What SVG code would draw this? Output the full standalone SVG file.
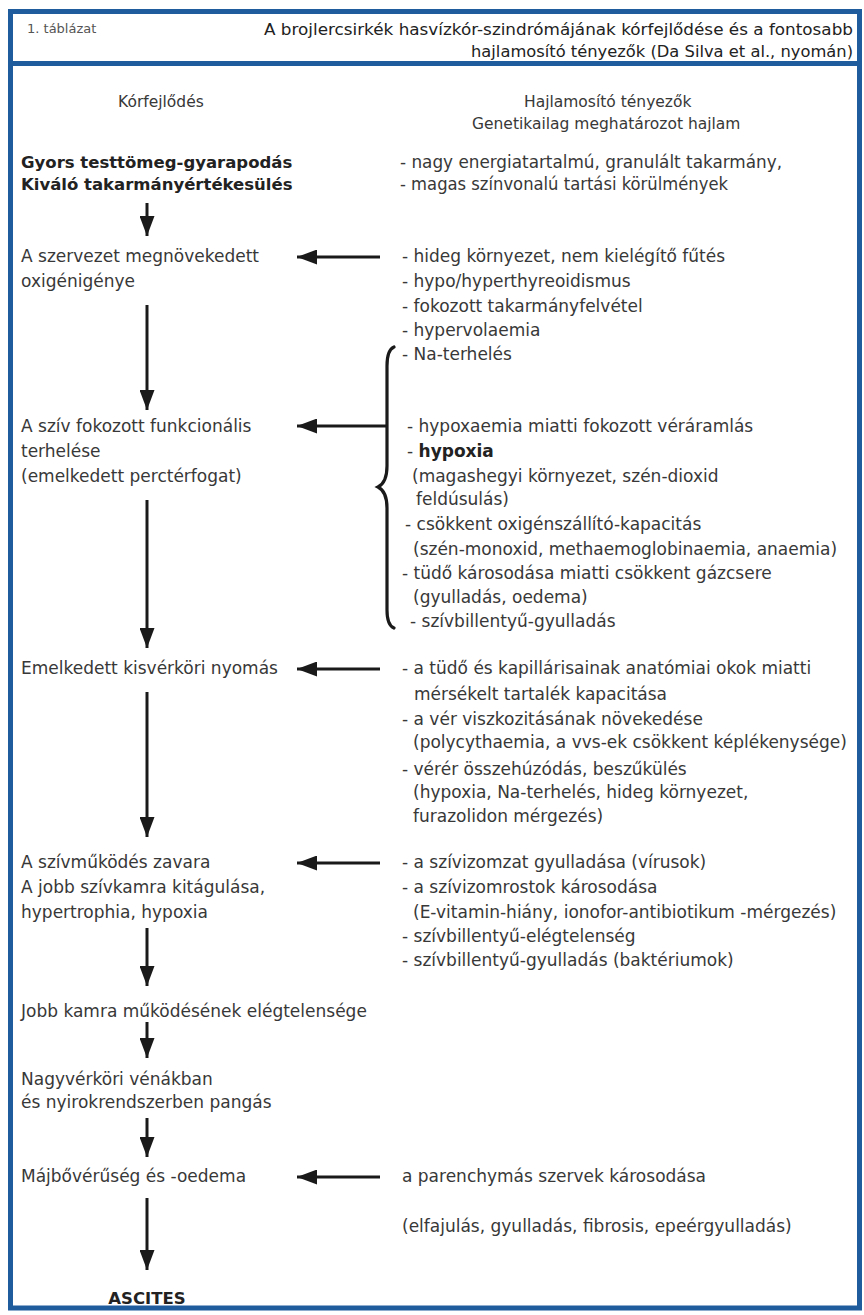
<svg xmlns="http://www.w3.org/2000/svg" width="864" height="1315" viewBox="0 0 864 1315">
<defs>
<style>
.t{font-family:"DejaVu Sans","Liberation Sans",sans-serif;font-size:17px;fill:#383838}
.c{font-family:"DejaVu Sans","Liberation Sans",sans-serif;font-size:15.5px;fill:#383838}
.b{font-family:"DejaVu Sans","Liberation Sans",sans-serif;font-size:16.5px;font-weight:bold;fill:#222}
.h{font-family:"DejaVu Sans","Liberation Sans",sans-serif;font-size:15px;fill:#222}
.s{font-family:"DejaVu Sans","Liberation Sans",sans-serif;font-size:13px;fill:#555}
.frame{fill:none;stroke:#1f5c9e;stroke-width:5}
.ar{fill:none;stroke:#1a1a1a;stroke-width:3;marker-end:url(#ah)}
.br{fill:none;stroke:#1a1a1a;stroke-width:3.2;stroke-linecap:round}
</style>
<marker id="ah" viewBox="0 0 20 15" refX="20" refY="7.5" markerWidth="20" markerHeight="15" markerUnits="userSpaceOnUse" orient="auto">
<path d="M0,0 L20,7.5 L0,15 Z" fill="#1a1a1a"/>
</marker>
</defs>
<rect width="864" height="1315" fill="#fff"/>
<g id="frame">
<rect class="frame" x="10.5" y="11.5" width="849" height="52"/>
<rect class="frame" x="10.5" y="63.5" width="849" height="1244.5"/>
</g>
<g id="header">
<text class="s" x="27" y="33">1. táblázat</text>
<text class="h" x="264" y="35" textLength="589" lengthAdjust="spacingAndGlyphs">A brojlercsirkék hasvízkór-szindrómájának kórfejlődése és a fontosabb</text>
<text class="h" x="471" y="57" textLength="382" lengthAdjust="spacingAndGlyphs">hajlamosító tényezők (Da Silva et al., nyomán)</text>
</g>
<g id="col-headers">
<text class="c" x="118" y="107">Kórfejlődés</text>
<text class="c" x="524" y="107">Hajlamosító tényezők</text>
<text class="c" x="472" y="129">Genetikailag meghatározot hajlam</text>
</g>
<g id="n-start">
<text class="b" x="21" y="168">Gyors testtömeg-gyarapodás</text>
<text class="b" x="21" y="190">Kiváló takarmányértékesülés</text>
</g>
<g id="f-genetic">
<text class="t" x="400" y="168" textLength="382" lengthAdjust="spacingAndGlyphs">- nagy energiatartalmú, granulált takarmány,</text>
<text class="t" x="400" y="190" textLength="328" lengthAdjust="spacingAndGlyphs">- magas színvonalú tartási körülmények</text>
</g>
<g id="n-oxygen">
<text class="t" x="21" y="262">A szervezet megnövekedett</text>
<text class="t" x="21" y="287">oxigénigénye</text>
</g>
<g id="f-oxygen">
<text class="t" x="402" y="262">- hideg környezet, nem kielégítő fűtés</text>
<text class="t" x="402" y="287">- hypo/hyperthyreoidismus</text>
<text class="t" x="402" y="312">- fokozott takarmányfelvétel</text>
<text class="t" x="402" y="336">- hypervolaemia</text>
<text class="t" x="402" y="360">- Na-terhelés</text>
</g>
<g id="n-heart-load">
<text class="t" x="21" y="432">A szív fokozott funkcionális</text>
<text class="t" x="21" y="457">terhelése</text>
<text class="t" x="21" y="482">(emelkedett perctérfogat)</text>
</g>
<g id="f-heart-load">
<text class="t" x="407" y="432">- hypoxaemia miatti fokozott véráramlás</text>
<text class="t" x="407" y="457">- <tspan font-weight="bold" fill="#222">hypoxia</tspan></text>
<text class="t" x="412" y="482">(magashegyi környezet, szén-dioxid</text>
<text class="t" x="416" y="505">feldúsulás)</text>
<text class="t" x="405" y="530">- csökkent oxigénszállító-kapacitás</text>
<text class="t" x="413" y="555">(szén-monoxid, methaemoglobinaemia, anaemia)</text>
<text class="t" x="402" y="579">- tüdő károsodása miatti csökkent gázcsere</text>
<text class="t" x="413" y="603">(gyulladás, oedema)</text>
<text class="t" x="410" y="627">- szívbillentyű-gyulladás</text>
</g>
<g id="n-pressure">
<text class="t" x="21" y="674">Emelkedett kisvérköri nyomás</text>
</g>
<g id="f-pressure">
<text class="t" x="402" y="674">- a tüdő és kapillárisainak anatómiai okok miatti</text>
<text class="t" x="414" y="700">mérsékelt tartalék kapacitása</text>
<text class="t" x="402" y="725">- a vér viszkozitásának növekedése</text>
<text class="t" x="413" y="748">(polycythaemia, a vvs-ek csökkent képlékenysége)</text>
<text class="t" x="402" y="775">- vérér összehúzódás, beszűkülés</text>
<text class="t" x="413" y="798">(hypoxia, Na-terhelés, hideg környezet,</text>
<text class="t" x="413" y="822">furazolidon mérgezés)</text>
</g>
<g id="n-heart-dysfunction">
<text class="t" x="21" y="868">A szívműködés zavara</text>
<text class="t" x="21" y="893">A jobb szívkamra kitágulása,</text>
<text class="t" x="21" y="918">hypertrophia, hypoxia</text>
</g>
<g id="f-heart-dysfunction">
<text class="t" x="402" y="868">- a szívizomzat gyulladása (vírusok)</text>
<text class="t" x="402" y="893">- a szívizomrostok károsodása</text>
<text class="t" x="413" y="918">(E-vitamin-hiány, ionofor-antibiotikum -mérgezés)</text>
<text class="t" x="402" y="942">- szívbillentyű-elégtelenség</text>
<text class="t" x="402" y="966">- szívbillentyű-gyulladás (baktériumok)</text>
</g>
<g id="n-right-ventricle">
<text class="t" x="21" y="1017">Jobb kamra működésének elégtelensége</text>
</g>
<g id="n-venous">
<text class="t" x="21" y="1085">Nagyvérköri vénákban</text>
<text class="t" x="21" y="1108">és nyirokrendszerben pangás</text>
</g>
<g id="n-liver">
<text class="t" x="21" y="1182">Májbővérűség és -oedema</text>
</g>
<g id="f-liver">
<text class="t" x="402" y="1182">a parenchymás szervek károsodása</text>
<text class="t" x="402" y="1232">(elfajulás, gyulladás, fibrosis, epeérgyulladás)</text>
</g>
<g id="n-ascites">
<text class="b" x="147" y="1304" text-anchor="middle" font-size="17.5">ASCITES</text>
</g>
<g id="connectors">
<line class="ar" x1="147" y1="203" x2="147" y2="236"/>
<line class="ar" x1="147" y1="305" x2="147" y2="410"/>
<line class="ar" x1="147" y1="500" x2="147" y2="648"/>
<line class="ar" x1="147" y1="692" x2="147" y2="837"/>
<line class="ar" x1="147" y1="928" x2="147" y2="986"/>
<line class="ar" x1="147" y1="1022" x2="147" y2="1058"/>
<line class="ar" x1="147" y1="1118" x2="147" y2="1157"/>
<line class="ar" x1="147" y1="1198" x2="147" y2="1270"/>
<line class="ar" x1="380" y1="257" x2="297" y2="257" stroke-width="3.5"/>
<line class="ar" x1="386" y1="426" x2="297" y2="426" stroke-width="3.5"/>
<line class="ar" x1="380" y1="669" x2="297" y2="669" stroke-width="3.5"/>
<line class="ar" x1="380" y1="863" x2="297" y2="863" stroke-width="3.5"/>
<line class="ar" x1="380" y1="1177" x2="297" y2="1177" stroke-width="3.5"/>
<path class="br" d="M394,347 C389,349 387,355 387,366 L387,466 C387,478 384,484 378,487 C384,490 387,496 387,508 L387,610 C387,620 389,626 394,628"/>
</g>
</svg>
